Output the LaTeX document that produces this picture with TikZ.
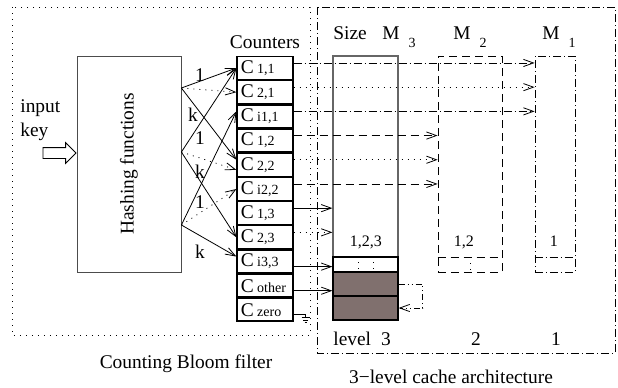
\documentclass[tikz,border=0pt]{standalone}
\usepackage{fontspec}
\setmainfont{Liberation Serif}
\usepackage{tikz}
\usetikzlibrary{shapes, arrows.meta, positioning}

\definecolor{cachefill}{RGB}{128,112,110}
\newcommand{\cnt}[1]{C\,{\fontsize{7}{8}\selectfont #1}}
\newcommand{\msub}[1]{M\hspace{4.5pt}\raisebox{-4pt}{\fontsize{7}{8}\selectfont #1}}

\begin{document}
\begin{tikzpicture}
  [
    x=0.5pt, y=-0.5pt,
    font=\fontsize{9.7}{12}\selectfont,
    >={Straight Barb[length=5pt, width=3.6pt]},
    Cell/.style={rectangle, draw=black, semithick, minimum width=28pt, minimum height=11.4pt, text width=24pt, inner sep=2pt, align=left},
    Slot/.style={rectangle, draw=black, semithick, minimum width=32.5pt, minimum height=7.5pt, inner sep=0pt},
    Block/.style={Slot, fill=cachefill, minimum height=12pt},
    Tag/.style={inner sep=0pt},
    Small/.style={inner sep=0pt, font=\fontsize{8}{9}\selectfont},
    DotLine/.style={dash pattern=on 0.5pt off 2.5pt},
    TwoLine/.style={dash pattern=on 4pt off 2.5pt},
    OneLine/.style={dash pattern=on 4pt off 1.5pt on 0.5pt off 1.5pt},
    LoopLine/.style={dash pattern=on 3pt off 1.5pt on 0.5pt off 1.5pt on 0.5pt off 1.5pt}
  ]
  \useasboundingbox (0,0) rectangle (618,387);

  % Frames
  \draw[thin, DotLine] (12,7) rectangle (310,335);
  \draw[thin, OneLine] (317,7) rectangle (615,353);
  \node[Tag, anchor=base] (bloomname) at (186,368) {Counting Bloom filter};
  \node[Tag, anchor=base] (cachename) at (451,383) {3−level cache architecture};

  % Hashing
  \node[draw=black!70, minimum width=52pt, minimum height=108pt, inner sep=0pt] (hash) at (129,164) {\rotatebox{90}{Hashing functions}};
  \node[align=left, anchor=west, inner sep=0pt] (inkey) at (20,120) {input\\key};
  \node[single arrow, draw, anchor=tip, minimum height=16.5pt, text height=5pt, text depth=0pt, single arrow head extend=2.5pt, inner sep=0pt] (keyarrow) at ([yshift=5.5pt]hash.west) {};

  \coordinate (hA) at ([yshift=38pt]hash.east);
  \coordinate (hB) at ([yshift=6pt]hash.east);
  \coordinate (hC) at ([yshift=-30.5pt]hash.east);

  % Counters
  \node[Cell] (c11) at (265,68) {\cnt{1,1}};
  \node[Cell, below=0pt of c11] (c21) {\cnt{2,1}};
  \node[Cell, below=0pt of c21] (ci1) {\cnt{i1,1}};
  \node[Cell, below=0pt of ci1] (c12) {\cnt{1,2}};
  \node[Cell, below=0pt of c12] (c22) {\cnt{2,2}};
  \node[Cell, below=0pt of c22] (ci2) {\cnt{i2,2}};
  \node[Cell, below=0pt of ci2] (c13) {\cnt{1,3}};
  \node[Cell, below=0pt of c13] (c23) {\cnt{2,3}};
  \node[Cell, below=0pt of c23] (ci3) {\cnt{i3,3}};
  \node[Cell, below=0pt of ci3] (cother) {\cnt{other}};
  \node[Cell, below=0pt of cother] (czero) {\cnt{zero}};
  \node[above=0pt of c11] (ctrtitle) {Counters};

  % Hash outputs
  \draw[->, thin] (hA) -- (c11.west);
  \draw[->, thin, DotLine] (hA) -- (c21.west);
  \draw[->, thin] (hA) -- (c22.170);
  \draw[->, thin] (hB) -- (c11.west);
  \draw[->, thin, DotLine] (hB) -- (c22.190);
  \draw[->, thin] (hB) -- (c23.west);
  \draw[->, thin] (hC) -- (ci1.170);
  \draw[->, thin, DotLine] (hC) -- (ci2.west);
  \draw[->, thin] (hC) -- (ci3.170);

  \node[Tag] (one1) at (200,75) {1};
  \node[Tag] (k1) at (193,115) {k};
  \node[Tag] (one2) at (200,138) {1};
  \node[Tag] (k2) at (200,172) {k};
  \node[Tag] (one3) at (200,202) {1};
  \node[Tag] (k3) at (200,252) {k};

  % Cache levels
  \node[draw=black!60, line width=0.6pt, minimum width=32.5pt, minimum height=132pt, inner sep=0pt] (m3) at (365.5,188) {};
  \node[Slot] (m3slot) at (365.5,264.5) {};
  \node[Block] (m3top) at (365.5,284) {};
  \node[Block] (m3bot) at (365.5,308) {};
  \draw[thin, DotLine] ([xshift=-3.75pt]m3slot.north) -- ([xshift=-3.75pt]m3slot.south);
  \draw[thin, DotLine] ([xshift=3.75pt]m3slot.north) -- ([xshift=3.75pt]m3slot.south);

  \node[draw, thin, TwoLine, minimum width=32pt, minimum height=108pt, inner sep=0pt] (m2) at (470,164) {};
  \draw[thin, TwoLine] ([yshift=7.5pt]m2.south west) -- ([yshift=7.5pt]m2.south east);
  \draw[thin, DotLine] ([yshift=7.5pt]m2.south) -- (m2.south);

  \node[draw, thin, OneLine, minimum width=20pt, minimum height=108pt, inner sep=0pt] (m1) at (555,164) {};
  \draw[thin, OneLine] ([yshift=7.5pt]m1.south west) -- ([yshift=7.5pt]m1.south east);

  \node[Tag, anchor=base west] (sizename) at (333,39) {Size};
  \node[Tag, anchor=base west] (m3name) at (382,39) {\msub{3}};
  \node[Tag, anchor=base west] (m2name) at (453,39) {\msub{2}};
  \node[Tag, anchor=base west] (m1name) at (542,39) {\msub{1}};

  \node[Small, anchor=base] (set3) at (366,246) {1,2,3};
  \node[Small, anchor=base] (set2) at (464,246) {1,2};
  \node[Small, anchor=base] (set1) at (554,246) {1};

  \node[Tag, anchor=base west] (lvl3) at (333,345) {level\hspace{5pt}3};
  \node[Tag, anchor=base] (lvl2) at (476,345) {2};
  \node[Tag, anchor=base] (lvl1) at (556,345) {1};

  % Counters to cache
  \draw[->, thin, OneLine] (c11.10) -- (c11.10 -| m1.west);
  \draw[->, thin, DotLine] (c21.10) -- (c21.10 -| m1.west);
  \draw[->, thin, OneLine] (ci1.10) -- (ci1.10 -| m1.west);
  \draw[->, thin, TwoLine] (c12.10) -- (c12.10 -| m2.west);
  \draw[->, thin, DotLine] (c22.10) -- (c22.10 -| m2.west);
  \draw[->, thin, TwoLine] (ci2.10) -- (ci2.10 -| m2.west);
  \draw[->, thin] (c13.10) -- (c13.10 -| m3.west);
  \draw[->, thin, DotLine] (c23.10) -- (c23.10 -| m3.west);
  \draw[->, thin] (ci3.350) -- (ci3.350 -| m3slot.west);
  \draw[->, thin] (cother.350) -- (cother.350 -| m3top.west);
  \draw[->, thin, LoopLine] (m3top.east) -- ++(12pt,0) |- (m3bot.east);

  % Ground on the zero counter
  \coordinate (gnd) at ([xshift=6pt]czero.350);
  \draw[thin] (czero.350) -- (gnd) -- ([yshift=-1.5pt]gnd);
  \draw[thin] ([shift={(-2pt,-1.5pt)}]gnd) -- ([shift={(2pt,-1.5pt)}]gnd);
  \draw[thin] ([shift={(-1.2pt,-2.7pt)}]gnd) -- ([shift={(1.2pt,-2.7pt)}]gnd);
  \draw[thin] ([shift={(-0.5pt,-3.9pt)}]gnd) -- ([shift={(0.5pt,-3.9pt)}]gnd);

\end{tikzpicture}
\end{document}
